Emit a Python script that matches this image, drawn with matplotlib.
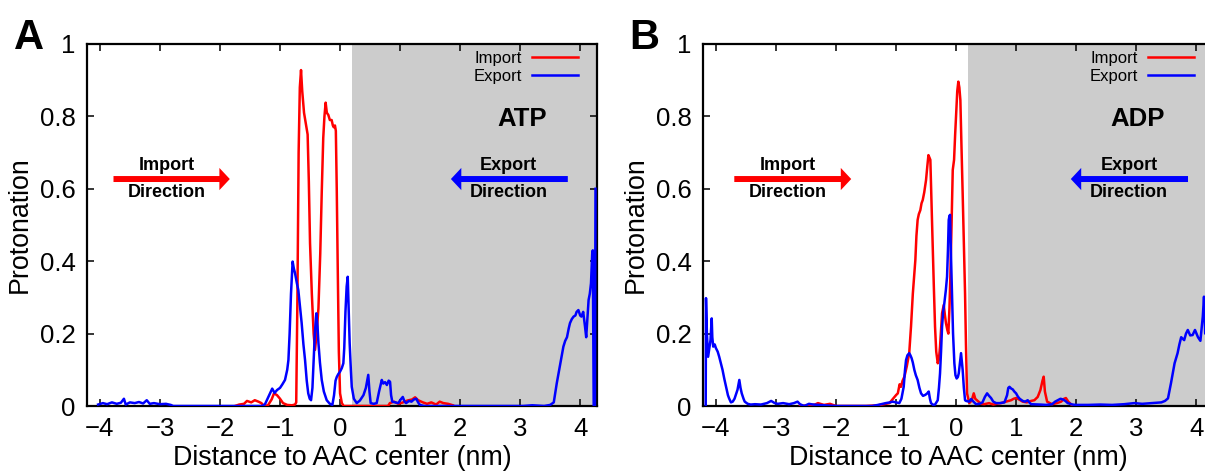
import matplotlib
matplotlib.use("Agg")
import matplotlib.pyplot as plt
from matplotlib.patches import FancyArrowPatch
from matplotlib.ticker import FuncFormatter, MultipleLocator

plt.rcParams['font.family'] = ['Liberation Sans', 'DejaVu Sans']

# ---------------- ATP ----------------
atp_import_x = [-1.75, -1.68, -1.6, -1.55, -1.48, -1.42, -1.36, -1.31, -1.27, -1.2, -1.14, -1.1,
                -1.05, -1.0, -0.95, -0.88, -0.8, -0.75, -0.73, -0.71, -0.69, -0.67, -0.65, -0.63,
                -0.6, -0.57, -0.54, -0.52, -0.5, -0.47, -0.44, -0.417, -0.39, -0.36, -0.33, -0.305,
                -0.28, -0.26, -0.24, -0.22, -0.195, -0.17, -0.14, -0.12, -0.105, -0.085, -0.07,
                -0.055, -0.04, -0.02, 0.0, 0.03, 0.06, 0.8, 0.83, 0.9, 0.97, 1.05, 1.12, 1.2, 1.25,
                1.3, 1.38, 1.45, 1.52, 1.6, 1.66, 1.72, 1.8, 1.88]
atp_import_y = [0.0, 0.004, 0.006, 0.014, 0.01, 0.016, 0.012, 0.008, 0.0, 0.002, 0.018, 0.035,
                0.03, 0.02, 0.008, 0.003, 0.002, 0.004, 0.01, 0.3, 0.7, 0.88, 0.928, 0.87,
                0.81, 0.78, 0.75, 0.62, 0.45, 0.31, 0.2, 0.155, 0.2, 0.27, 0.42, 0.59,
                0.74, 0.80, 0.838, 0.81, 0.804, 0.79, 0.79, 0.775, 0.77, 0.775, 0.76,
                0.6, 0.4, 0.15, 0.035, 0.008, 0.0, 0.0, 0.008, 0.012, 0.006, 0.01, 0.015, 0.018, 0.024,
                0.016, 0.01, 0.006, 0.01, 0.004, 0.012, 0.008, 0.006, 0.002]

atp_export_x = [-4.03, -3.95, -3.88, -3.8, -3.72, -3.65, -3.6, -3.57, -3.5, -3.42, -3.35, -3.28,
                -3.22, -3.17, -3.1, -3.0, -2.9, -2.82, -2.78, -1.3, -1.25, -1.18, -1.13, -1.09,
                -1.05, -1.0, -0.96, -0.917, -0.88, -0.86, -0.84, -0.817, -0.79, -0.77, -0.75,
                -0.72, -0.695, -0.67, -0.64, -0.61, -0.583, -0.555, -0.53, -0.505, -0.483, -0.46,
                -0.44, -0.42, -0.395, -0.375, -0.36, -0.335, -0.305, -0.27, -0.222, -0.17, -0.128,
                -0.1, -0.075, -0.055, -0.03, 0.0, 0.03, 0.055, 0.07, 0.09, 0.11, 0.128, 0.145,
                0.16, 0.18, 0.195, 0.23, 0.278, 0.33, 0.39, 0.43, 0.47, 0.49, 0.51, 0.56, 0.61,
                0.65, 0.695, 0.72, 0.75, 0.78, 0.81, 0.833, 0.85, 0.87, 0.97, 1.01, 1.045, 1.075,
                1.1, 1.15, 1.19, 1.23, 1.27, 1.3, 1.33, 1.4, 3.05, 3.2, 3.4, 3.5, 3.56, 3.61,
                3.67, 3.72, 3.75, 3.78, 3.81, 3.83, 3.86, 3.89, 3.92, 3.94, 3.97, 4.0, 4.02, 4.05,
                4.08, 4.1, 4.12, 4.14, 4.16, 4.18, 4.2, 4.21, 4.225, 4.245, 4.255]
atp_export_y = [0.004, 0.008, 0.005, 0.01, 0.006, 0.009, 0.02, 0.004, 0.01, 0.008, 0.011, 0.007,
                0.016, 0.006, 0.008, 0.005, 0.006, 0.003, 0.0, 0.0, 0.005, 0.03, 0.048, 0.036,
                0.044, 0.05, 0.06, 0.072, 0.1, 0.127, 0.2, 0.31, 0.399, 0.38, 0.367,
                0.34, 0.32, 0.28, 0.23, 0.17, 0.127, 0.07, 0.035, 0.02, 0.016, 0.05,
                0.127, 0.2, 0.256, 0.22, 0.174, 0.12, 0.072, 0.04, 0.016, 0.006, 0.003,
                0.03, 0.07, 0.08, 0.088, 0.095, 0.105, 0.118, 0.16, 0.26, 0.33, 0.357, 0.26,
                0.174, 0.1, 0.053, 0.02, 0.008, 0.015, 0.03, 0.05, 0.086, 0.04, 0.008, 0.006, 0.008,
                0.04, 0.072, 0.062, 0.066, 0.058, 0.07, 0.067, 0.03, 0.012, 0.008, 0.018, 0.025, 0.012,
                0.008, 0.014, 0.012, 0.018, 0.02, 0.01, 0.003, 0.0, 0.0, 0.002, 0.0, 0.003, 0.01, 0.063,
                0.118, 0.164, 0.18, 0.19, 0.215, 0.229, 0.24, 0.247, 0.25, 0.26, 0.265, 0.25, 0.247, 0.26,
                0.22, 0.19, 0.24, 0.293, 0.31, 0.339, 0.42, 0.43, 0.0, 0.0, 0.6]

# ---------------- ADP ----------------
adp_import_x = [-2.6, -2.35, -2.3, -2.2, -2.1, -2.0, -1.5, -1.3, -1.2, -1.11, -1.05, -1.0, -0.97,
                -0.94, -0.917, -0.89, -0.86, -0.82, -0.78, -0.75, -0.72, -0.678, -0.66, -0.64,
                -0.62, -0.595, -0.575, -0.555, -0.53, -0.5, -0.48, -0.46, -0.44, -0.428, -0.41,
                -0.39, -0.37, -0.35, -0.33, -0.305, -0.285, -0.267, -0.25, -0.233, -0.205, -0.185,
                -0.167, -0.145, -0.128, -0.11, -0.095, -0.075, -0.055, -0.033, -0.015, 0.005, 0.02,
                0.038, 0.055, 0.072, 0.09, 0.11, 0.13, 0.15, 0.165, 0.183, 0.22, 0.26, 0.295, 0.32,
                0.36, 0.42, 0.47, 0.55, 0.62, 0.7, 0.75, 0.83, 0.917, 0.96, 1.0, 1.05, 1.11, 1.18,
                1.25, 1.305, 1.36, 1.405, 1.44, 1.46, 1.48, 1.517, 1.6, 1.68, 1.75, 1.8, 1.83, 1.87,
                1.92, 1.97]
adp_import_y = [0.0, 0.004, 0.008, 0.003, 0.006, 0.0, 0.0, 0.002, 0.005, 0.008, 0.02, 0.03, 0.035,
                0.06, 0.053, 0.07, 0.081, 0.11, 0.146, 0.22, 0.31, 0.403, 0.47, 0.514,
                0.53, 0.541, 0.56, 0.569, 0.59, 0.624, 0.66, 0.693, 0.685, 0.68, 0.57,
                0.449, 0.33, 0.219, 0.15, 0.118, 0.13, 0.164, 0.21, 0.256, 0.279, 0.25,
                0.228, 0.21, 0.2, 0.27, 0.357, 0.5, 0.652, 0.68, 0.75, 0.818, 0.87,
                0.896, 0.88, 0.845, 0.72, 0.588, 0.45, 0.31, 0.17, 0.035, 0.008, 0.015, 0.035, 0.02,
                0.014, 0.006, 0.005, 0.008, 0.004, 0.007, 0.008, 0.012, 0.016, 0.02, 0.022, 0.018, 0.012, 0.01,
                0.014, 0.016, 0.025, 0.044, 0.07, 0.081, 0.04, 0.012, 0.005, 0.008, 0.012, 0.02, 0.022, 0.012,
                0.004, 0.0]

adp_export_x = [-4.17, -4.165, -4.15, -4.13, -4.11, -4.09, -4.07, -4.06, -4.045, -4.02, -4.0, -3.97,
                -3.945, -3.92, -3.89, -3.86, -3.83, -3.8, -3.78, -3.75, -3.72, -3.69, -3.67, -3.64,
                -3.61, -3.59, -3.57, -3.54, -3.52, -3.47, -3.42, -3.35, -3.25, -3.15, -3.08, -3.02,
                -2.97, -2.88, -2.78, -2.7, -2.64, -2.6, -2.53, -2.45, -2.38, -2.3, -2.2, -2.0, -1.6,
                -1.4, -1.3, -1.22, -1.17, -1.1, -1.055, -1.0, -0.945, -0.91, -0.872, -0.85, -0.833,
                -0.81, -0.78, -0.76, -0.74, -0.72, -0.695, -0.67, -0.64, -0.61, -0.583, -0.55,
                -0.51, -0.48, -0.455, -0.435, -0.417, -0.38, -0.35, -0.305, -0.285, -0.267, -0.25,
                -0.233, -0.215, -0.195, -0.17, -0.15, -0.135, -0.122, -0.11, -0.1, -0.085, -0.067,
                -0.05, -0.028, -0.01, 0.01, 0.03, 0.045, 0.065, 0.083, 0.095, 0.11, 0.13, 0.15,
                0.167, 0.22, 0.25, 0.29, 0.333, 0.39, 0.44, 0.48, 0.517, 0.55, 0.583, 0.62, 0.667,
                0.73, 0.806, 0.85, 0.87, 0.89, 0.92, 0.944, 0.97, 1.0, 1.03, 1.06, 1.11, 1.15,
                1.194, 1.22, 1.25, 1.4, 1.5, 1.6, 1.65, 1.694, 1.74, 1.78, 1.82, 1.86, 1.94, 2.0,
                2.2, 2.4, 2.6, 2.8, 2.97, 3.1, 3.25, 3.42, 3.48, 3.53, 3.58, 3.61, 3.64, 3.69, 3.72,
                3.75, 3.8, 3.83, 3.86, 3.9, 3.94, 3.98, 4.03, 4.07, 4.1, 4.11, 4.13, 4.15, 4.2, 4.26]
adp_export_y = [0.0, 0.298, 0.2, 0.136, 0.16, 0.182, 0.242, 0.19, 0.164, 0.17, 0.16, 0.15,
                0.136, 0.12, 0.1, 0.075, 0.053, 0.03, 0.021, 0.01, 0.012, 0.02, 0.03, 0.045,
                0.072, 0.05, 0.035, 0.02, 0.012, 0.006, 0.004, 0.005, 0.004, 0.008, 0.014, 0.008,
                0.006, 0.008, 0.005, 0.008, 0.012, 0.005, 0.0, 0.006, 0.004, 0.003, 0.002, 0.0, 0.0,
                0.0, 0.003, 0.006, 0.008, 0.01, 0.012, 0.01, 0.008, 0.02, 0.053, 0.1, 0.127,
                0.14, 0.146, 0.14, 0.132, 0.12, 0.1, 0.085, 0.072, 0.05, 0.035, 0.028,
                0.031, 0.035, 0.04, 0.02, 0.008, 0.003, 0.004, 0.016, 0.05, 0.09, 0.15,
                0.219, 0.26, 0.284, 0.32, 0.357, 0.43, 0.514, 0.525, 0.528, 0.42, 0.311,
                0.2, 0.118, 0.085, 0.076, 0.08, 0.09, 0.12, 0.146, 0.125, 0.1, 0.05, 0.016,
                0.014, 0.012, 0.019, 0.012, 0.005, 0.006, 0.01, 0.025, 0.035, 0.028, 0.022, 0.012, 0.008,
                0.008, 0.01, 0.03, 0.05, 0.053, 0.048, 0.046, 0.04, 0.035, 0.026, 0.02, 0.014, 0.012,
                0.016, 0.01, 0.005, 0.004, 0.003, 0.005, 0.012, 0.016, 0.02, 0.018, 0.014, 0.008, 0.004, 0.003,
                0.003, 0.004, 0.003, 0.005, 0.008, 0.006, 0.008, 0.01, 0.014, 0.021, 0.063, 0.09, 0.118, 0.146, 0.17,
                0.19, 0.182, 0.2, 0.21, 0.195, 0.196, 0.21, 0.19, 0.18, 0.23, 0.247, 0.302, 0.2, 0.22, 0.25]

panels = [
    dict(letter="A", name="ATP", imp=(atp_import_x, atp_import_y), exp=(atp_export_x, atp_export_y),
         left=86.7, red=(-3.82, -1.79, -2.88), blue=(3.84, 1.80, 2.81)),
    dict(letter="B", name="ADP", imp=(adp_import_x, adp_import_y), exp=(adp_export_x, adp_export_y),
         left=702.7, red=(-3.74, -1.70, -2.81), blue=(3.91, 1.865, 2.88)),
]

W, H = 1205, 471
fig = plt.figure(figsize=(W / 100, H / 100), dpi=100)

RED = "#ff0000"
BLUE = "#0000ff"
XMIN, XMAX = -4.22, 4.28
ax_w = 510.3 / W
ax_b = (H - 406) / H
ax_h = 362 / H

for p in panels:
    ax = fig.add_axes([p["left"] / W, ax_b, ax_w, ax_h])
    ax.axvspan(0.2, XMAX, color="#cccccc", lw=0, zorder=0)
    ax.plot(*p["imp"], color=RED, lw=1.8, label="Import", zorder=3)
    ax.plot(*p["exp"], color=BLUE, lw=1.8, label="Export", zorder=4)
    ax.set_xlim(XMIN, XMAX)
    ax.set_ylim(0, 1)
    ax.xaxis.set_major_locator(MultipleLocator(1))
    ax.yaxis.set_major_locator(MultipleLocator(0.2))
    ax.yaxis.set_major_formatter(FuncFormatter(lambda v, _: f"{v:g}"))
    ax.tick_params(direction="in", top=True, right=True, length=5, width=1.1,
                   labelsize=18.5, pad=8)
    for s in ax.spines.values():
        s.set_linewidth(1.6)
    ax.set_xlabel("Distance to AAC center (nm)", fontsize=19.3, labelpad=3)
    ax.set_ylabel("Protonation", fontsize=19.3, labelpad=5)

    ax.legend(loc="upper right", bbox_to_anchor=(0.963, 0.98), frameon=False,
              markerfirst=False, fontsize=12, handlelength=2.75, handletextpad=0.6,
              labelspacing=0.15, borderaxespad=0, borderpad=0)

    ax.text(3.03, 0.773, p["name"], fontsize=18.5, weight="bold", ha="center", va="baseline")

    rt, rh, rx = p["red"]
    bt, bh, bx = p["blue"]
    for tail, head, col in ((rt, rh, RED), (bt, bh, BLUE)):
        ax.add_patch(FancyArrowPatch((tail, 0.627), (head, 0.627),
                                     arrowstyle="simple,head_length=7.5,head_width=16,tail_width=4.3",
                                     mutation_scale=1, color=col, lw=0, zorder=5))
    for x, word in ((rx, "Import"), (bx, "Export")):
        ax.text(x, 0.652, word, fontsize=13, weight="bold", ha="center", va="baseline", zorder=6)
        ax.text(x, 0.578, "Direction", fontsize=13, weight="bold", ha="center", va="baseline", zorder=6)

    fig.text((p["left"] - 73) / W, 1 - 49 / H, p["letter"], fontsize=30, weight="bold",
             ha="left", va="baseline")

fig.savefig("out.png", dpi=100)
